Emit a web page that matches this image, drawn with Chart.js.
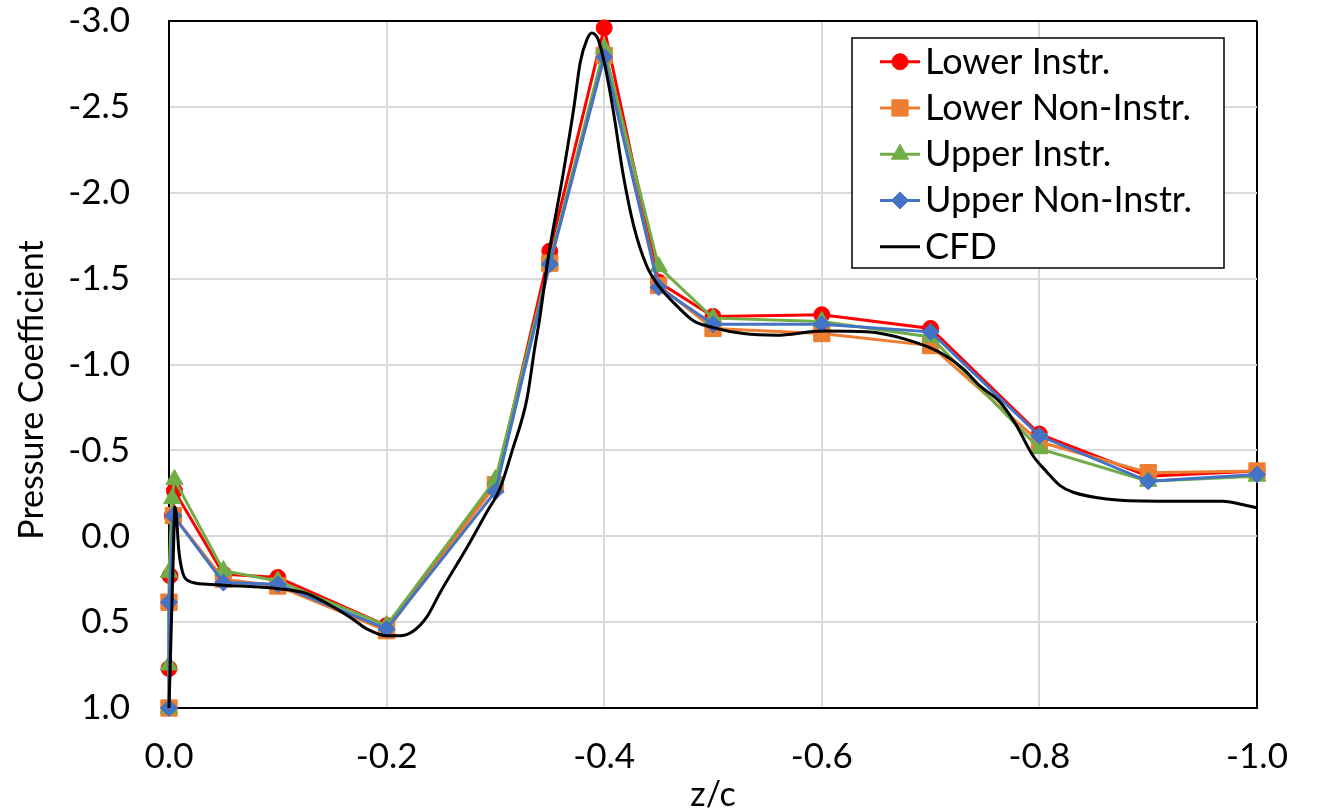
<!DOCTYPE html>
<html>
<head>
<meta charset="utf-8">
<title>Pressure Coefficient vs z/c</title>
<script src="https://cdn.jsdelivr.net/npm/chart.js@4.4.0/dist/chart.umd.min.js"></script>
<style>
  html, body { margin: 0; padding: 0; background: #fff; }
  #wrap { width: 1317px; height: 812px; position: relative; background: #fff; }
</style>
</head>
<body>
<div id="wrap"><canvas id="cp"></canvas></div>
<script>
// ---- Measured pressure coefficient, four tap rows ----
const lowerInstrZ  = [0, -0.001, -0.003, -0.005, -0.05, -0.1, -0.2, -0.3, -0.35, -0.4, -0.45, -0.5, -0.6, -0.7, -0.8, -0.9, -1.0];
const lowerInstrCp = [0.77, 0.23, -0.12, -0.265, 0.22, 0.24, 0.52, -0.30, -1.66, -2.96, -1.48, -1.28, -1.29, -1.21, -0.595, -0.35, -0.38];

const lowerNonInstrZ  = [0, 0, -0.004, -0.05, -0.1, -0.2, -0.3, -0.35, -0.4, -0.45, -0.5, -0.6, -0.7, -0.8, -0.9, -1.0];
const lowerNonInstrCp = [1.0, 0.384, -0.12, 0.25, 0.29, 0.55, -0.30, -1.59, -2.80, -1.46, -1.21, -1.18, -1.11, -0.55, -0.37, -0.38];

const upperInstrZ  = [0, 0, 0, -0.003, -0.005, -0.05, -0.1, -0.2, -0.3, -0.35, -0.4, -0.45, -0.5, -0.6, -0.7, -0.8, -0.9, -1.0];
const upperInstrCp = [1.0, 0.75, 0.21, -0.22, -0.33, 0.20, 0.26, 0.52, -0.33, -1.60, -2.84, -1.57, -1.27, -1.25, -1.16, -0.51, -0.32, -0.35];

const upperNonInstrZ  = [0, 0, -0.004, -0.05, -0.1, -0.2, -0.3, -0.35, -0.4, -0.45, -0.5, -0.6, -0.7, -0.8, -0.9, -1.0];
const upperNonInstrCp = [1.0, 0.384, -0.12, 0.27, 0.28, 0.54, -0.26, -1.585, -2.79, -1.45, -1.235, -1.235, -1.19, -0.585, -0.32, -0.36];

// ---- CFD surface distribution ----
const cfdZ = [0, -0.002, -0.004, -0.0055, -0.007, -0.009, -0.0125, -0.018, -0.035, -0.066, -0.1, -0.125, -0.142, -0.166, -0.182, -0.2, -0.212, -0.225, -0.237, -0.249,
              -0.274, -0.292, -0.304, -0.316, -0.329, -0.336, -0.341, -0.348, -0.362, -0.372, -0.378, -0.384, -0.3885, -0.3946, -0.4007, -0.408, -0.4176, -0.427, -0.439,
              -0.451, -0.467, -0.482, -0.5, -0.528, -0.558, -0.6, -0.641, -0.678, -0.7086, -0.73, -0.745, -0.764, -0.779, -0.794, -0.807, -0.819, -0.831, -0.862, -0.908,
              -0.969, -0.984, -1.0];
const cfdCp = [1.0, 0.55, 0.1, -0.17, -0.1, 0.08, 0.21, 0.26, 0.28, 0.29, 0.305, 0.33, 0.38, 0.47, 0.54, 0.58, 0.58, 0.55, 0.47, 0.33,
               0.064, -0.14, -0.275, -0.51, -0.80, -1.09, -1.28, -1.60, -2.10, -2.49, -2.76, -2.89, -2.93, -2.89, -2.74, -2.49, -2.10, -1.81, -1.575,
               -1.45, -1.34, -1.255, -1.215, -1.18, -1.17, -1.195, -1.19, -1.145, -1.07, -0.974, -0.877, -0.78, -0.644, -0.47, -0.373, -0.295, -0.256, -0.217, -0.204,
               -0.204, -0.188, -0.165];

// ---- Axis ticks ----
const zTicks  = [0, -0.2, -0.4, -0.6, -0.8, -1.0];
const cpTicks = [-3.0, -2.5, -2.0, -1.5, -1.0, -0.5, 0.0, 0.5, 1.0];

const seriesLabels = ['Lower Instr.', 'Lower Non-Instr.', 'Upper Instr.', 'Upper Non-Instr.', 'CFD'];

const toPoints = (xs, ys) => xs.map((x, i) => ({ x: x, y: ys[i] }));

const FONT = 'Lato';

// Boxed legend inside the plot, top right
const insideLegend = {
  id: 'insideLegend',
  afterDatasetsDraw(chart, args, o) {
    const ctx = chart.ctx;
    ctx.save();
    ctx.fillStyle = '#fff';
    ctx.fillRect(o.left, o.top, o.width, o.height);
    ctx.strokeStyle = '#000';
    ctx.lineWidth = 1.5;
    ctx.strokeRect(o.left, o.top, o.width, o.height);
    chart.data.datasets.forEach((ds, i) => {
      const y = o.top + o.firstRow + i * o.rowGap;
      ctx.strokeStyle = ds.borderColor;
      ctx.lineWidth = ds.borderWidth;
      ctx.beginPath();
      ctx.moveTo(o.lineStart, y);
      ctx.lineTo(o.lineEnd, y);
      ctx.stroke();
      if (ds.pointRadius > 0) {
        ctx.fillStyle = ds.pointBackgroundColor;
        ctx.strokeStyle = ds.pointBorderColor;
        ctx.lineWidth = 1;
        Chart.helpers.drawPoint(ctx, { pointStyle: ds.pointStyle, radius: ds.pointRadius, rotation: 0, borderWidth: 1 },
          (o.lineStart + o.lineEnd) / 2, y);
      }
      ctx.fillStyle = '#000';
      ctx.font = o.fontSize + 'px ' + FONT;
      ctx.textAlign = 'left';
      ctx.textBaseline = 'alphabetic';
      ctx.fillText(ds.label, o.textX, y + o.baselineShift);
    });
    ctx.restore();
  }
};

function series(label, zs, cps, color, style, radius, order) {
  return {
    label: label,
    data: toPoints(zs, cps),
    showLine: true,
    borderColor: color,
    backgroundColor: color,
    borderWidth: 3,
    pointStyle: style,
    pointRadius: radius,
    pointHoverRadius: radius,
    pointBackgroundColor: color,
    pointBorderColor: color,
    pointBorderWidth: 1,
    tension: 0,
    clip: false,
    order: order
  };
}

function build() {
  const edgeColor = (edgeValue) => (c) => (c.tick && Math.abs(c.tick.value - edgeValue) < 1e-9 ? '#000' : '#d9d9d9');

  new Chart(document.getElementById('cp'), {
    type: 'scatter',
    data: {
      datasets: [
        series(seriesLabels[0], lowerInstrZ, lowerInstrCp, '#ff0000', 'circle', 8, 4),
        series(seriesLabels[1], lowerNonInstrZ, lowerNonInstrCp, '#ed7d31', 'rect', 11.5, 3),
        series(seriesLabels[2], upperInstrZ, upperInstrCp, '#70ad47', 'triangle', 10, 2),
        series(seriesLabels[3], upperNonInstrZ, upperNonInstrCp, '#4472c4', 'rectRot', 8.5, 1),
        {
          label: seriesLabels[4],
          data: toPoints(cfdZ, cfdCp),
          showLine: true,
          borderColor: '#000',
          backgroundColor: '#000',
          borderWidth: 3,
          pointRadius: 0,
          pointHoverRadius: 0,
          cubicInterpolationMode: 'monotone',
          clip: false,
          order: 0
        }
      ]
    },
    options: {
      responsive: true,
      maintainAspectRatio: false,
      animation: false,
      layout: { padding: { top: 21, right: 60, left: 0, bottom: 0 } },
      plugins: {
        legend: { display: false },
        tooltip: { enabled: false },
        insideLegend: {
          left: 852, top: 38, width: 372, height: 230,
          firstRow: 23.7, rowGap: 46.25,
          lineStart: 880, lineEnd: 920, textX: 925,
          fontSize: 36, baselineShift: 12
        }
      },
      scales: {
        x: {
          type: 'linear',
          min: -1, max: 0, reverse: true,
          afterBuildTicks: (s) => { s.ticks = zTicks.map(v => ({ value: v })); },
          afterFit: (s) => { s.height = 104; },
          ticks: {
            callback: (v) => Number(v).toFixed(1),
            font: { family: FONT, size: 35, lineHeight: 1.2 },
            color: '#000',
            padding: 0,
            maxRotation: 0
          },
          // invisible tick marks keep the labels clear of the plot edge
          grid: { color: edgeColor(-1), lineWidth: 2, drawTicks: true, tickLength: 28, tickColor: 'rgba(0,0,0,0)' },
          border: { color: '#000', width: 2 },
          title: {
            display: true, text: 'z/c', color: '#000',
            font: { family: FONT, size: 34, lineHeight: 1 },
            padding: { top: 0, bottom: 0 }
          }
        },
        y: {
          type: 'linear',
          min: -3, max: 1, reverse: true,
          afterBuildTicks: (s) => { s.ticks = cpTicks.map(v => ({ value: v })); },
          afterFit: (s) => { s.width = 169; },
          ticks: {
            callback: (v) => Number(v).toFixed(1),
            font: { family: FONT, size: 35, lineHeight: 1.2 },
            color: '#000',
            padding: 0
          },
          grid: { color: edgeColor(-3), lineWidth: 2, drawTicks: true, tickLength: 39, tickColor: 'rgba(0,0,0,0)' },
          border: { color: '#000', width: 2 },
          title: {
            display: true, text: 'Pressure Coefficient\u2002\u2002\u2002', color: '#000',
            font: { family: FONT, size: 34, lineHeight: 1.2 },
            padding: { top: 12, bottom: 0 }
          }
        }
      }
    },
    plugins: [insideLegend]
  });
}

if (document.fonts && document.fonts.load) {
  document.fonts.load('35px ' + FONT).then(build, build);
} else {
  build();
}
</script>
</body>
</html>
